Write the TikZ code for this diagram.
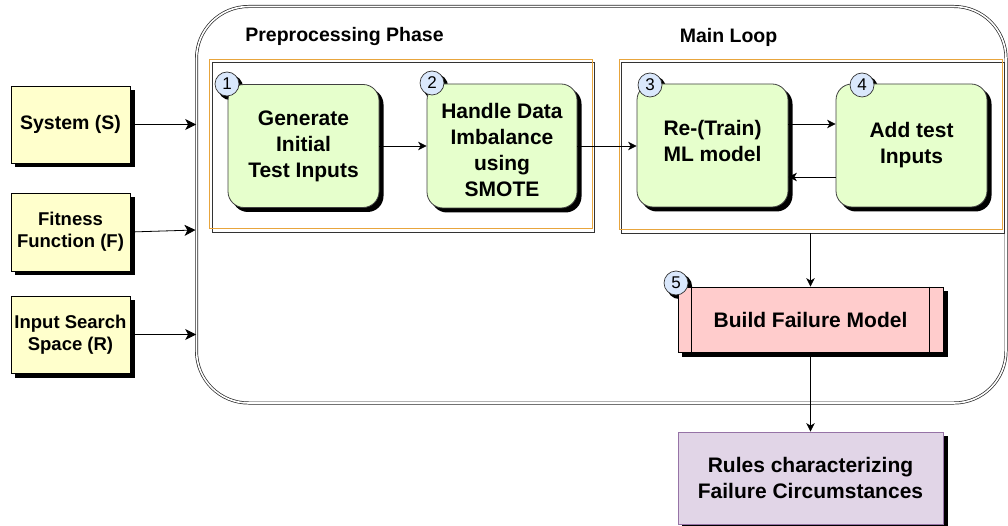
\documentclass[tikz,border=0pt]{standalone}
\usepackage{fontspec}
\setmainfont{Liberation Sans}
\usetikzlibrary{arrows.meta,calc}
\definecolor{gfill}{HTML}{E6FFCC}
\definecolor{yfill}{HTML}{FFFFCC}
\definecolor{pfill}{HTML}{FFCCCC}
\definecolor{lfill}{HTML}{E1D5E7}
\definecolor{lline}{HTML}{9673A6}
\definecolor{bfill}{HTML}{DAE8FC}
\definecolor{orng}{RGB}{232,165,60}
\tikzset{
  inbox/.style={draw=black,line width=0.8pt,fill=yfill,minimum width=119pt,align=center,inner sep=0pt,
    font=\fontsize{18.5}{22}\selectfont\bfseries},
  stepbox/.style={draw=black!75,line width=0.8pt,fill=gfill,rounded corners=16pt,minimum width=151pt,
    minimum height=123pt,align=center,inner sep=0pt,font=\fontsize{21}{26}\selectfont\bfseries},
  badge/.style={circle,draw=black!80,line width=0.7pt,fill=bfill,minimum size=24pt,inner sep=0pt,
    font=\fontsize{17}{17}\selectfont},
  grp/.style={draw=orng,line width=0.9pt},
  grpk/.style={draw=black!80,line width=0.9pt},
  title/.style={font=\fontsize{19.5}{22}\selectfont\bfseries,inner sep=0pt},
  bigarr/.style={line width=0.8pt,-{Stealth[length=11pt,width=11pt,inset=3pt]}},
  smarr/.style={line width=0.8pt,-{Stealth[length=8.5pt,width=8.5pt,inset=2.5pt]}},
  shd/.style={fill=black},
}
\begin{document}
\begin{tikzpicture}[x=1pt,y=-1pt]
\useasboundingbox (0,0) rectangle (1008,526);
% outer container
\node[draw=black!85,double,double distance=1.6pt,line width=0.7pt,rounded corners=52pt,
  minimum width=809.5pt,minimum height=396.5pt,inner sep=0pt] (outer) at (601.25,204.75) {};
% group frames
\node[grpk,minimum width=382pt,minimum height=170pt,inner sep=0pt] (preS) at (403,147) {};
\node[grp,minimum width=383pt,minimum height=169pt,inner sep=0pt] (pre) at (400.5,143.5) {};
\node[grpk,minimum width=383pt,minimum height=171pt,inner sep=0pt] (mainS) at (812.5,147.5) {};
\node[grp,minimum width=383pt,minimum height=170pt,inner sep=0pt] (main) at (810.5,144) {};
\node[title] (tpre) at (344.5,37) {Preprocessing Phase};
\node[title] (tmain) at (728.5,37) {Main Loop};
% shadows
\fill[shd] (15,90) rectangle (134.5,167.5);
\fill[shd] (15,197) rectangle (134.5,275.5);
\fill[shd] (15,300) rectangle (134.5,377.5);
\fill[shd,rounded corners=16pt] (232,88.5) rectangle (383.5,212);
\fill[shd,rounded corners=16pt] (431,88) rectangle (581.5,212.5);
\fill[shd,rounded corners=16pt] (641,88) rectangle (792.5,211.5);
\fill[shd,rounded corners=16pt] (840,88) rectangle (991.5,211.5);
\fill[shd] (682,291) rectangle (947.5,356.5);
\fill[shd] (682,436) rectangle (947.5,528);
\fill[shd] (230.5,87.5) circle (12.6pt);
\fill[shd] (435.5,86.5) circle (12.6pt);
\fill[shd] (653.5,88.5) circle (12.6pt);
\fill[shd] (865.5,88.5) circle (12.6pt);
\fill[shd] (679.5,286.5) circle (12.6pt);
% inputs
\node[inbox,minimum height=77pt,font=\fontsize{19.5}{22}\selectfont\bfseries] (sys) at (70.5,124.5) {System (S)};
\node[inbox,minimum height=78pt] (fit) at (70.5,232) {Fitness\\Function (F)};
\node[inbox,minimum height=77pt] (isp) at (70.5,334.5) {Input Search\\Space (R)};
% steps
\node[stepbox] (b1) at (303.5,146) {Generate\\Initial\\Test Inputs};
\node[stepbox,minimum width=150pt,minimum height=124pt] (b2) at (502,146) {\mbox{}\\[-3pt]Handle Data\\Imbalance\\using\\SMOTE};
\node[stepbox] (b3) at (712.5,145.5) {Re-(Train)\\ML model\\[-17pt]\mbox{}};
\node[stepbox] (b4) at (911.5,145.5) {Add test\\Inputs};
\node[draw=black,line width=0.8pt,fill=pfill,minimum width=265pt,minimum height=65pt,inner sep=0pt,
  font=\fontsize{21}{26}\selectfont\bfseries] (b5) at (810.5,319.5) {Build Failure Model};
\draw[line width=0.8pt] ([xshift=14pt]b5.north west) -- ([xshift=14pt]b5.south west);
\draw[line width=0.8pt] ([xshift=-14pt]b5.north east) -- ([xshift=-14pt]b5.south east);
\node[draw=lline,line width=0.8pt,fill=lfill,minimum width=265pt,minimum height=92pt,inner sep=0pt,align=center,
  font=\fontsize{21}{26}\selectfont\bfseries] (b6) at (810.5,478) {Rules characterizing\\Failure Circumstances};
% badges
\node[badge] (n1) at (227,84) {1};
\node[badge] (n2) at (432,83) {2};
\node[badge] (n3) at (650,85) {3};
\node[badge] (n4) at (862,85) {4};
\node[badge] (n5) at (676,283) {5};
% arrows
\coordinate (fitend) at (195.5,230);
\draw[bigarr] (sys.east) -- (sys.east -| outer.west);
\draw[bigarr] (fit.east) -- (fitend);
\draw[bigarr] (isp.east) -- (isp.east -| outer.west);
\draw[smarr] (b1.east) -- (b1.east -| b2.west);
\draw[smarr] (b2.east) -- (b2.east -| b3.west);
\draw[smarr] ([yshift=21.5pt]b3.east) -- ([yshift=21.5pt]b3.east -| b4.west);
\draw[smarr] ([yshift=-31.5pt]b4.west) -- ([yshift=-31.5pt]b4.west -| b3.east);
\draw[smarr] (mainS.south -| b5.north) -- (b5.north);
\draw[smarr] (b5.south) -- (b6.north);
\end{tikzpicture}
\end{document}
